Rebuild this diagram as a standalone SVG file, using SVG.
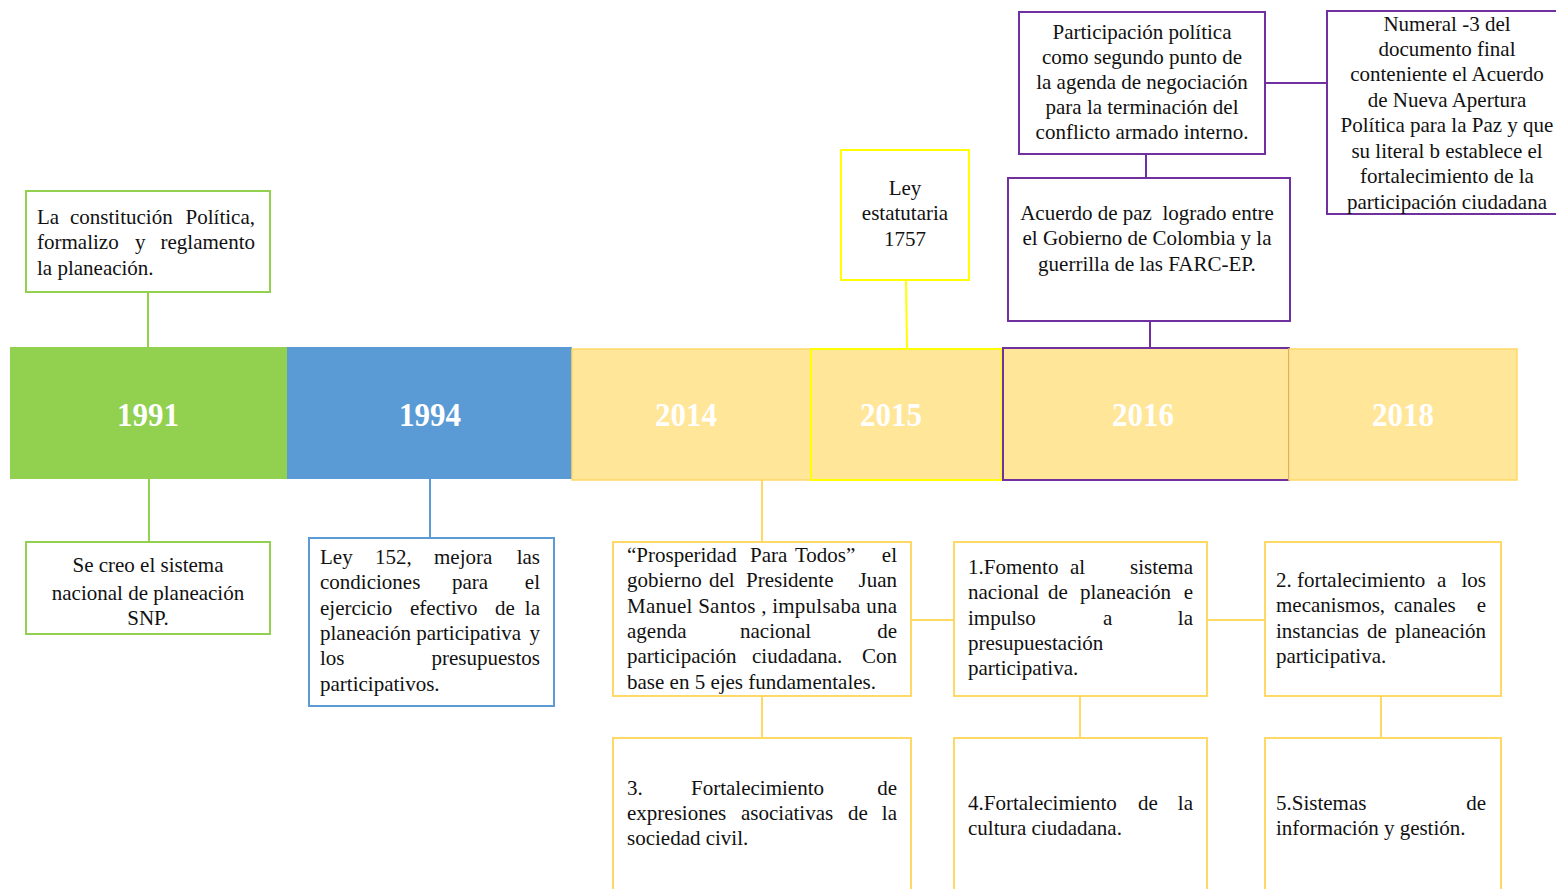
<svg xmlns="http://www.w3.org/2000/svg" width="1556" height="889" viewBox="0 0 1556 889">
<style>
.t{font-family:"Liberation Serif","Times New Roman",serif;font-size:21px;fill:#111111}
.c{text-anchor:middle}
.e{text-anchor:end}
.yr{font-family:"Liberation Serif","Times New Roman",serif;font-weight:bold;font-size:34px;fill:#ffffff;text-anchor:middle}
.box{fill:#ffffff;stroke-width:2}
.g{stroke:#92D050}
.b{stroke:#5B9BD5}
.y{stroke:#FFD966}
.yy{stroke:#FFFF00}
.p{stroke:#7030A0}
.ln{fill:none;stroke-width:2}
</style>
<rect x="0" y="0" width="1556" height="889" fill="#ffffff"/>

<g id="connectors">
<line class="ln g" x1="148" y1="292" x2="148" y2="347"/>
<line class="ln g" x1="149" y1="479" x2="149" y2="542"/>
<line class="ln b" x1="430" y1="479" x2="430" y2="538"/>
<line class="ln y" x1="762" y1="480" x2="762" y2="542"/>
<line class="ln y" x1="762" y1="696" x2="762" y2="738"/>
<line class="ln y" x1="911" y1="620" x2="954" y2="620"/>
<line class="ln y" x1="1207" y1="620" x2="1265" y2="620"/>
<line class="ln y" x1="1080" y1="696" x2="1080" y2="738"/>
<line class="ln y" x1="1381" y1="696" x2="1381" y2="738"/>
<line class="ln yy" x1="906" y1="280" x2="907" y2="349"/>
<line class="ln p" x1="1150" y1="321" x2="1150" y2="348"/>
<line class="ln p" x1="1146" y1="154" x2="1146" y2="178"/>
<line class="ln p" x1="1265" y1="83" x2="1327" y2="83"/>
</g>

<g id="timeline">
<g id="y1991"><rect x="10" y="347" width="277" height="132" fill="#92D050"/><text class="yr" x="148" y="426" textLength="62" lengthAdjust="spacingAndGlyphs">1991</text></g>
<g id="y1994"><rect x="287" y="347" width="285" height="132" fill="#5B9BD5"/><text class="yr" x="430" y="426" textLength="62" lengthAdjust="spacingAndGlyphs">1994</text></g>
<g id="y2014"><rect x="572" y="349" width="239" height="131" fill="#FFE699" stroke="#FFD966" stroke-width="1.5"/><text class="yr" x="686" y="426" textLength="62" lengthAdjust="spacingAndGlyphs">2014</text></g>
<g id="y2015"><rect x="811" y="349" width="191" height="131" fill="#FFE699" stroke="#FFFF00" stroke-width="2"/><text class="yr" x="891" y="426" textLength="62" lengthAdjust="spacingAndGlyphs">2015</text></g>
<g id="y2016"><rect x="1003" y="348" width="286" height="132" fill="#FFE699" stroke="#7030A0" stroke-width="2"/><text class="yr" x="1143" y="426" textLength="62" lengthAdjust="spacingAndGlyphs">2016</text></g>
<g id="y2018"><rect x="1289" y="349" width="228" height="131" fill="#FFE699" stroke="#FFD966" stroke-width="1.5"/><text class="yr" x="1403" y="426" textLength="62" lengthAdjust="spacingAndGlyphs">2018</text></g>
</g>

<g id="n1991top">
<rect class="box g" x="26" y="191" width="244" height="101"/>
<text class="t" y="224"><tspan x="37">La</tspan><tspan x="70">constitución</tspan><tspan x="255" class="e">Política,</tspan></text>
<text class="t" y="249"><tspan x="37">formalizo</tspan><tspan x="135">y</tspan><tspan x="255" class="e">reglamento</tspan></text>
<text class="t" x="37" y="275">la planeación.</text>
</g>

<g id="n1991bot">
<rect class="box g" x="26" y="542" width="244" height="92"/>
<text class="t c" x="148" y="572">Se creo el sistema</text>
<text class="t c" x="148" y="600">nacional de planeación</text>
<text class="t c" x="148" y="625">SNP.</text>
</g>

<g id="n1994">
<rect class="box b" x="309" y="538" width="245" height="168"/>
<text class="t" y="564"><tspan x="320">Ley</tspan><tspan x="375">152,</tspan><tspan x="434">mejora</tspan><tspan x="540" class="e">las</tspan></text>
<text class="t" y="589"><tspan x="320">condiciones</tspan><tspan x="452">para</tspan><tspan x="540" class="e">el</tspan></text>
<text class="t" y="615"><tspan x="320">ejercicio</tspan><tspan x="410">efectivo</tspan><tspan x="495">de</tspan><tspan x="540" class="e">la</tspan></text>
<text class="t" y="640"><tspan x="320">planeación participativa</tspan><tspan x="540" class="e">y</tspan></text>
<text class="t" y="665"><tspan x="320">los</tspan><tspan x="540" class="e">presupuestos</tspan></text>
<text class="t" x="320" y="691">participativos.</text>
</g>

<g id="n2014">
<rect class="box y" x="613" y="542" width="298" height="154"/>
<text class="t" y="562"><tspan x="627">“Prosperidad</tspan><tspan x="750">Para</tspan><tspan x="795">Todos”</tspan><tspan x="897" class="e">el</tspan></text>
<text class="t" y="587"><tspan x="627">gobierno</tspan><tspan x="709">del</tspan><tspan x="746">Presidente</tspan><tspan x="897" class="e">Juan</tspan></text>
<text class="t" x="627" y="613" textLength="270" lengthAdjust="spacing">Manuel Santos , impulsaba una</text>
<text class="t" y="638"><tspan x="627">agenda</tspan><tspan x="740">nacional</tspan><tspan x="897" class="e">de</tspan></text>
<text class="t" y="663"><tspan x="627">participación</tspan><tspan x="752">ciudadana.</tspan><tspan x="897" class="e">Con</tspan></text>
<text class="t" x="627" y="689">base en 5 ejes fundamentales.</text>
</g>

<g id="n2015">
<rect class="box yy" x="841" y="150" width="128" height="130"/>
<text class="t c" x="905" y="195">Ley</text>
<text class="t c" x="905" y="220">estatutaria</text>
<text class="t c" x="905" y="246">1757</text>
</g>

<g id="n2016acuerdo">
<rect class="box p" x="1008" y="178" width="282" height="143"/>
<text class="t c" x="1147" y="220">Acuerdo de paz&#160; logrado entre</text>
<text class="t c" x="1147" y="245">el Gobierno de Colombia y la</text>
<text class="t c" x="1147" y="271">guerrilla de las FARC-EP.</text>
</g>

<g id="n2016participacion">
<rect class="box p" x="1019" y="12" width="246" height="142"/>
<text class="t c" x="1142" y="39">Participación política</text>
<text class="t c" x="1142" y="64">como segundo punto de</text>
<text class="t c" x="1142" y="89">la agenda de negociación</text>
<text class="t c" x="1142" y="114">para la terminación del</text>
<text class="t c" x="1142" y="139">conflicto armado interno.</text>
</g>

<g id="n2016numeral">
<rect class="box p" x="1327" y="11" width="240" height="203"/>
<text class="t c" x="1447" y="31">Numeral -3 del</text>
<text class="t c" x="1447" y="56">documento final</text>
<text class="t c" x="1447" y="81">conteniente el Acuerdo</text>
<text class="t c" x="1447" y="107">de Nueva Apertura</text>
<text class="t c" x="1447" y="132">Política para la Paz y que</text>
<text class="t c" x="1447" y="158">su literal b establece el</text>
<text class="t c" x="1447" y="183">fortalecimiento de la</text>
<text class="t c" x="1447" y="209">participación ciudadana</text>
</g>

<g id="eje1">
<rect class="box y" x="954" y="542" width="253" height="154"/>
<text class="t" y="574"><tspan x="968">1.Fomento</tspan><tspan x="1070">al</tspan><tspan x="1193" class="e">sistema</tspan></text>
<text class="t" y="599"><tspan x="968">nacional</tspan><tspan x="1048">de</tspan><tspan x="1080">planeación</tspan><tspan x="1193" class="e">e</tspan></text>
<text class="t" y="625"><tspan x="968">impulso</tspan><tspan x="1103">a</tspan><tspan x="1193" class="e">la</tspan></text>
<text class="t" x="968" y="650">presupuestación</text>
<text class="t" x="968" y="675">participativa.</text>
</g>

<g id="eje2">
<rect class="box y" x="1265" y="542" width="236" height="154"/>
<text class="t" y="587"><tspan x="1276">2.</tspan><tspan x="1297">fortalecimiento</tspan><tspan x="1437">a</tspan><tspan x="1486" class="e">los</tspan></text>
<text class="t" y="612"><tspan x="1276">mecanismos,</tspan><tspan x="1394">canales</tspan><tspan x="1486" class="e">e</tspan></text>
<text class="t" y="638"><tspan x="1276">instancias</tspan><tspan x="1367">de</tspan><tspan x="1486" class="e">planeación</tspan></text>
<text class="t" x="1276" y="663">participativa.</text>
</g>

<g id="eje3">
<rect class="box y" x="613" y="738" width="298" height="160"/>
<text class="t" y="795"><tspan x="627">3.</tspan><tspan x="691">Fortalecimiento</tspan><tspan x="897" class="e">de</tspan></text>
<text class="t" y="820"><tspan x="627">expresiones</tspan><tspan x="741">asociativas</tspan><tspan x="848">de</tspan><tspan x="897" class="e">la</tspan></text>
<text class="t" x="627" y="845">sociedad civil.</text>
</g>

<g id="eje4">
<rect class="box y" x="954" y="738" width="253" height="160"/>
<text class="t" y="810"><tspan x="968">4.Fortalecimiento</tspan><tspan x="1138">de</tspan><tspan x="1193" class="e">la</tspan></text>
<text class="t" x="968" y="835">cultura ciudadana.</text>
</g>

<g id="eje5">
<rect class="box y" x="1265" y="738" width="236" height="160"/>
<text class="t" y="810"><tspan x="1276">5.Sistemas</tspan><tspan x="1486" class="e">de</tspan></text>
<text class="t" x="1276" y="835">información y gestión.</text>
</g>
</svg>
